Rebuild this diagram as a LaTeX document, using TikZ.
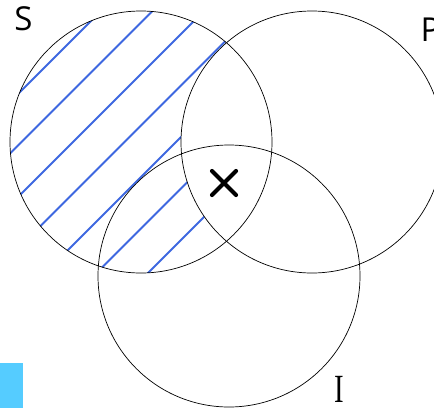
\documentclass[tikz,border=0pt]{standalone}
\usepackage{fontspec}
\setsansfont{Open Sans}
\newfontfamily\tallserif{Liberation Serif}
\usepackage{tikz}

\begin{document}
\begin{tikzpicture}[x=1pt,y=-1pt,
        ring/.style={draw=black, line width=0.7pt},
        hatchline/.style={draw=hatchblue, line width=1.8pt},
        crossmark/.style={draw=black, line width=4.2pt, line cap=round},
        setname/.style={inner sep=0pt, font=\sffamily\fontsize{33}{36}\selectfont}]
        \definecolor{hatchblue}{RGB}{62,104,224}
        \definecolor{tabcyan}{RGB}{85,204,255}

        % Coordinates
        \coordinate (S) at (141.00, 142.00);
        \coordinate (P) at (312.00, 142.00);
        \coordinate (I) at (229.00, 276.00);
        \coordinate (X) at (224.00, 183.00);

        \useasboundingbox (0,0) rectangle (434,408);

        % Drawing
        \begin{scope}
            \clip (S) circle (131);
            \foreach \c in {112,163.5,215,266.5,318,369.5,421}
                \draw[hatchline] (\c-300,300) -- (\c,0);
        \end{scope}
        \fill[white] (P) circle (131);

        \draw[ring] (S) circle (131);
        \draw[ring] (P) circle (131);
        \draw[ring] (I) circle (131);

        \draw[crossmark] (X) +(-12,-12) -- +(12,12);
        \draw[crossmark] (X) +(-12,12) -- +(12,-12);

        \node[setname] (labS) at (23.5, 19.0) {S};
        \node[setname, anchor=west] (labP) at (420.5, 30.0) {P};
        \node[inner sep=0pt, xscale=0.72, font=\tallserif\fontsize{40}{42}\selectfont] (labI) at (339.0, 389.0) {I};

        \fill[tabcyan] (0,363) rectangle (23,408);
    \end{tikzpicture}
\end{document}
